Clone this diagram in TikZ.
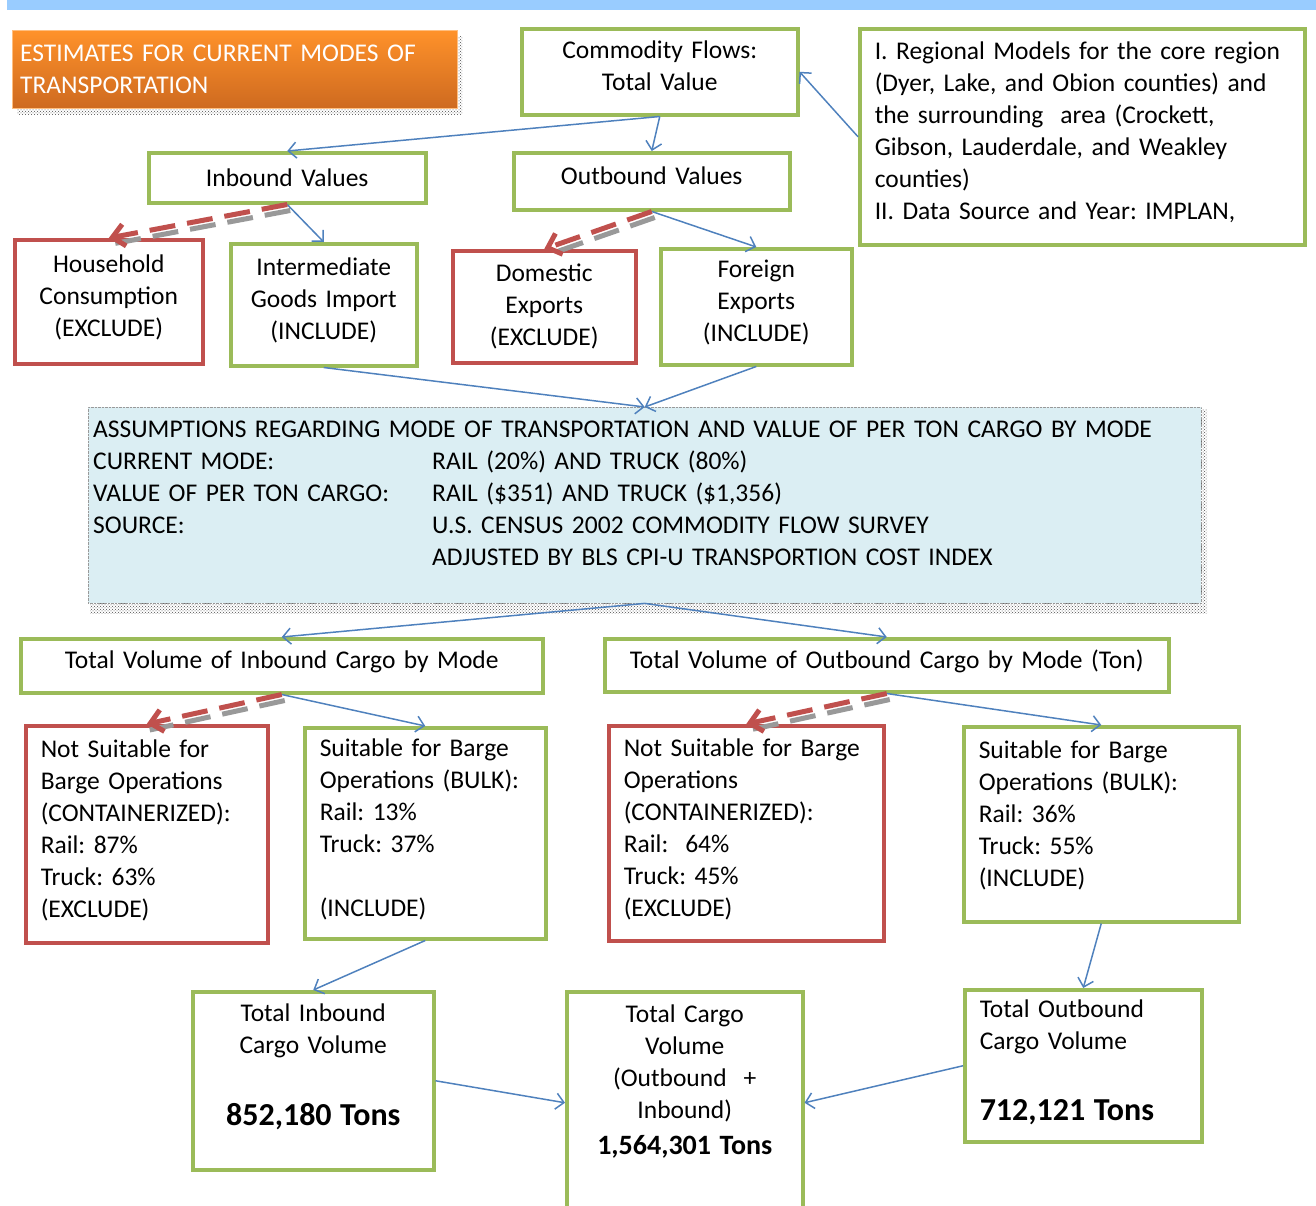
\documentclass[tikz,border=0pt]{standalone}
\usepackage{fontspec}
\setmainfont{Carlito}
\frenchspacing
\usetikzlibrary{arrows.meta,patterns,positioning}
\definecolor{boxgreen}{RGB}{155,187,89}
\definecolor{boxred}{RGB}{192,80,77}
\definecolor{flowblue}{RGB}{79,129,189}
\definecolor{asmfill}{RGB}{219,238,243}
\definecolor{bandblue}{RGB}{153,204,255}
\definecolor{orangetop}{RGB}{255,146,42}
\definecolor{orangebot}{RGB}{206,106,32}
\newcommand{\boxfont}{\fontsize{25.5}{32}\selectfont\frenchspacing}
\newcommand{\boxtail}{\rule[-12pt]{0pt}{1pt}}
\newcommand{\asmlabel}[1]{\makebox[339pt][l]{#1}}
\newcommand{\bigtons}[1]{{\bfseries\fontsize{32}{38}\selectfont #1}}

\begin{document}
\begin{tikzpicture}[x=1pt,y=-1pt,
  box/.style={draw,line width=3.5pt,fill=white,font=\boxfont,
    inner xsep=15pt,inner ysep=4pt,anchor=north west,
    execute at end node={\boxtail}},
  notail/.style={execute at begin node={\let\boxtail\relax}},
  inc/.style={box,draw=boxgreen},
  exc/.style={box,draw=boxred},
  flow/.style={draw=flowblue,line width=1.5pt,-{Straight Barb[length=8pt,width=16pt]}},
  drop/.style={draw=boxred,line width=5pt,dash pattern=on 26pt off 12pt,
    -{Straight Barb[length=12pt,width=22pt]}},
  dropshade/.style={draw=black!40,line width=5pt,dash pattern=on 26pt off 12pt}]

  \useasboundingbox (0,0) rectangle (1316,1205);
  \fill[bandblue] (7,0) rectangle (1316,10);

  % heading
  \fill[pattern=crosshatch dots,pattern color=black!70] (17,36) rectangle (462,114);
  \node[anchor=north west,minimum width=445pt,minimum height=78pt,inner xsep=8pt,
    text width=429pt,align=left,top color=orangetop,bottom color=orangebot,
    draw=orangetop!60,font=\boxfont,text=white] (head) at (12,30)
    {ESTIMATES FOR CURRENT MODES OF\\TRANSPORTATION};

  % value boxes
  \node[inc,minimum width=276pt,minimum height=86pt,text width=246pt,align=center] (cf) at (520,27)
    {Commodity Flows:\\Total Value};
  \node[inc,minimum width=445pt,minimum height=216pt,text width=415pt,align=left] (reg) at (858,27)
    {I. Regional Models for the core region\\(Dyer, Lake, and Obion counties) and\\the surrounding\ \ area (Crockett,\\Gibson, Lauderdale, and Weakley\\counties)\\II. Data Source and Year: IMPLAN,};
  \node[inc,notail,minimum width=277pt,minimum height=50pt,text width=247pt,align=center] (inb) at (147,151)
    {Inbound Values};
  \node[inc,minimum width=276pt,minimum height=57pt,text width=246pt,align=center] (outb) at (512,151)
    {Outbound Values};

  \node[exc,minimum width=188pt,minimum height=124pt,text width=158pt,align=center] (hh) at (13,238)
    {Household\\Consumption\\(EXCLUDE)};
  \node[inc,minimum width=186pt,minimum height=122pt,text width=156pt,align=center] (ig) at (229,242)
    {Intermediate\\Goods Import\\(INCLUDE)};
  \node[exc,notail,minimum width=183pt,minimum height=112pt,text width=153pt,align=center] (de) at (451,249)
    {Domestic\\Exports\\(EXCLUDE)};
  \node[inc,minimum width=191pt,minimum height=116pt,text width=161pt,align=center] (fe) at (659,247)
    {Foreign\\Exports\\(INCLUDE)};

  % assumptions
  \fill[pattern=crosshatch dots,pattern color=black!70] (90,409) rectangle (1207,613);
  \node[anchor=north west,minimum width=1113pt,minimum height=196pt,inner xsep=5pt,
    text width=1103pt,align=left,fill=asmfill,draw=black!40,densely dotted,font=\boxfont] (asm) at (88,407)
    {ASSUMPTIONS REGARDING MODE OF TRANSPORTATION AND VALUE OF PER TON CARGO BY MODE\\
     \asmlabel{CURRENT MODE:}RAIL (20\%) AND TRUCK (80\%)\\
     \asmlabel{VALUE OF PER TON CARGO:}RAIL (\$351) AND TRUCK (\$1,356)\\
     \asmlabel{SOURCE:}U.S. CENSUS 2002 COMMODITY FLOW SURVEY\\
     \asmlabel{}ADJUSTED BY BLS CPI-U TRANSPORTION COST INDEX\rule[-24pt]{0pt}{1pt}};

  % volume boxes
  \node[inc,minimum width=522pt,minimum height=54pt,text width=492pt,align=center] (tvin) at (19,637)
    {Total Volume of Inbound Cargo by Mode};
  \node[inc,minimum width=564pt,minimum height=53pt,text width=534pt,align=center] (tvout) at (603,637)
    {Total Volume of Outbound Cargo by Mode (Ton)};

  \node[exc,minimum width=242pt,minimum height=217pt,text width=212pt,align=left] (nsin) at (24,724)
    {Not Suitable for\\Barge Operations\\(CONTAINERIZED):\\Rail: 87\%\\Truck: 63\%\\(EXCLUDE)};
  \node[inc,minimum width=241pt,minimum height=211pt,text width=211pt,align=left] (sin) at (303,726)
    {Suitable for Barge\\Operations (BULK):\\Rail: 13\%\\Truck: 37\%\\[32pt](INCLUDE)};
  \node[exc,minimum width=275pt,minimum height=215pt,text width=245pt,align=left] (nsout) at (607,724)
    {Not Suitable for Barge\\Operations\\(CONTAINERIZED):\\Rail:\ \ 64\%\\Truck: 45\%\\(EXCLUDE)};
  \node[inc,minimum width=275pt,minimum height=195pt,text width=245pt,align=left] (sout) at (962,725)
    {Suitable for Barge\\Operations (BULK):\\Rail: 36\%\\Truck: 55\%\\(INCLUDE)\rule[-22pt]{0pt}{1pt}};

  % totals
  \node[inc,minimum width=241pt,minimum height=178pt,text width=211pt,align=center] (tin) at (191,990)
    {Total Inbound\\Cargo Volume\\[40pt]\bigtons{852,180 Tons}\rule[-32pt]{0pt}{1pt}};
  \node[inc,minimum width=236pt,minimum height=222pt,text width=206pt,align=center] (tc) at (565,990)
    {Total Cargo\\Volume\\(Outbound\ \ +\\Inbound)\\[4pt]{\bfseries\fontsize{28}{34}\selectfont 1,564,301 Tons}\rule[-46pt]{0pt}{1pt}};
  \node[inc,minimum width=237pt,minimum height=152pt,text width=207pt,align=left] (tout) at (963,988)
    {Total Outbound\\Cargo Volume\\[39pt]\bigtons{712,121 Tons}};

  % flows kept
  \draw[flow] (reg.west) -- (cf.east);
  \draw[flow] (cf.south) -- (inb.north);
  \draw[flow] (cf.south) -- (outb.north);
  \draw[flow] (inb.south) -- (ig.north);
  \draw[flow] (outb.south) -- (fe.north);
  \draw[flow] (ig.south) -- (asm.north);
  \draw[flow] (fe.south) -- (asm.north);
  \draw[flow] (asm.south) -- (tvin.north);
  \draw[flow] (asm.south) -- (tvout.north);
  \draw[flow] (tvin.south) -- (sin.north);
  \draw[flow] (tvout.south) -- (sout.north);
  \draw[flow] (sin.south) -- (tin.north);
  \draw[flow] (sout.south) -- (tout.north);
  \draw[flow] (tin.east) -- (tc.west);
  \draw[flow] (tout.west) -- (tc.east);

  % flows dropped
  \draw[dropshade] ([shift={(3,6)}]inb.south) -- ([shift={(3,6)}]hh.north);
  \draw[drop] (inb.south) -- (hh.north);
  \draw[dropshade] ([shift={(3,6)}]outb.south) -- ([shift={(3,6)}]de.north);
  \draw[drop] (outb.south) -- (de.north);
  \draw[dropshade] ([shift={(3,6)}]tvin.south) -- ([shift={(3,6)}]nsin.north);
  \draw[drop] (tvin.south) -- (nsin.north);
  \draw[dropshade] ([shift={(3,6)}]tvout.south) -- ([shift={(3,6)}]nsout.north);
  \draw[drop] (tvout.south) -- (nsout.north);
\end{tikzpicture}
\end{document}
